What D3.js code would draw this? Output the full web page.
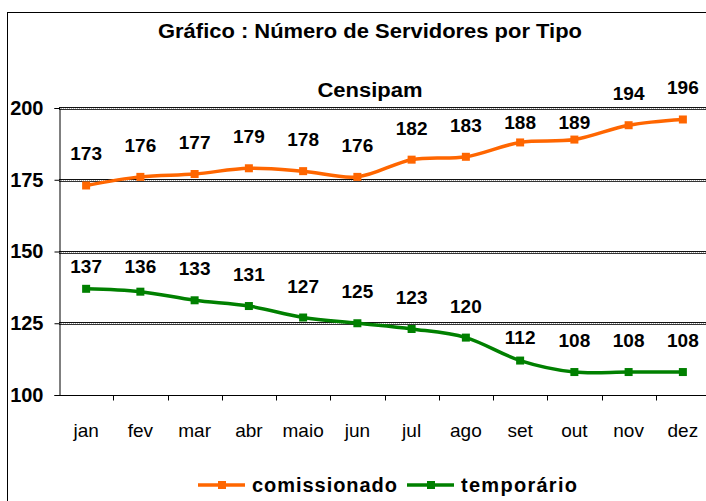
<!doctype html>
<html lang="pt">
<head>
<meta charset="utf-8">
<title>Número de Servidores por Tipo</title>
<script src="https://cdn.jsdelivr.net/npm/d3@7"></script>
<style>
	body { margin: 0; background: #fff; }
	text { font-family: "Liberation Sans", Arial, sans-serif; fill: #000; }
	.title { font-size: 20px; font-weight: bold; }
	.lbl { font-size: 19px; font-weight: bold; }
	.month { font-size: 19px; }
	.legend { font-size: 20px; font-weight: bold; }
</style>
</head>
<body>
<div id="viz"></div>
<script>
// DATA
var months = ["jan","fev","mar","abr","maio","jun","jul","ago","set","out","nov","dez"];
var comissionado = [173,176,177,179,178,176,182,183,188,189,194,196];
var temporario = [137,136,133,131,127,125,123,120,112,108,108,108];
var yTicks = [100,125,150,175,200];
var seriesNames = ["comissionado","temporário"];
var seriesColors = ["#ff6600","#008000"];

var w = 706, h = 501;
var plot = {left: 59, right: 710, top: 108, bottom: 395};

var svg = d3.select("#viz").append("svg")
	.attr("width", w)
	.attr("height", h);

// outer frame
svg.append("rect")
	.attr("x", 7.5).attr("y", 12.5)
	.attr("width", 720).attr("height", 520)
	.style("fill", "none").style("stroke", "#000").style("stroke-width", 1);

svg.append("text").attr("class", "title")
	.attr("x", 370).attr("y", 38)
	.attr("text-anchor", "middle")
	.attr("textLength", 424).attr("lengthAdjust", "spacingAndGlyphs")
	.text("Gráfico : Número de Servidores por Tipo");

svg.append("text").attr("class", "title")
	.attr("x", 370).attr("y", 97)
	.attr("text-anchor", "middle")
	.attr("textLength", 105).attr("lengthAdjust", "spacingAndGlyphs")
	.text("Censipam");

// SCALES
var xScale = d3.scalePoint()
	.domain(months)
	.range([plot.left, plot.right])
	.padding(0.5);
var step = xScale.step();

var yScale = d3.scaleLinear()
	.domain([100, 200])
	.range([plot.bottom, plot.top]);

// gridlines (double style)
var grid = svg.append("g");
yTicks.filter(function(d){ return d > 100; }).forEach(function(t) {
	var y = Math.round(yScale(t));
	grid.append("line")
		.attr("x1", plot.left).attr("x2", w)
		.attr("y1", y + 0.5).attr("y2", y + 0.5)
		.style("stroke", "#aaa").style("stroke-width", 1)
		.style("stroke-dasharray", "1,1");
	grid.append("line")
		.attr("x1", plot.left).attr("x2", w)
		.attr("y1", y - 0.5).attr("y2", y - 0.5)
		.style("stroke", "#111").style("stroke-width", 1);
	grid.append("line")
		.attr("x1", plot.left).attr("x2", w)
		.attr("y1", y + 1.5).attr("y2", y + 1.5)
		.style("stroke", "#333").style("stroke-width", 1);
});

// AXES
var yAxis = d3.axisLeft(yScale).tickValues(yTicks).tickSize(5).tickPadding(11);
var yG = svg.append("g")
	.attr("transform", "translate(" + (plot.left + 0.5) + ",0)")
	.call(yAxis);
yG.selectAll("text")
	.style("font-family", "'Liberation Sans', Arial, sans-serif")
	.style("font-size", "20px").style("font-weight", "bold").style("fill", "#000");
yG.select(".domain").style("stroke", "#000");

var xG = svg.append("g").attr("transform", "translate(0," + (plot.bottom + 0.5) + ")");
xG.append("line")
	.attr("x1", plot.left).attr("x2", w)
	.style("stroke", "#000");
xG.selectAll("line.tk")
	.data(months)
	.enter().append("line")
	.attr("class", "tk")
	.attr("x1", function(d){ return Math.round(xScale(d) + step / 2) + 0.5; })
	.attr("x2", function(d){ return Math.round(xScale(d) + step / 2) + 0.5; })
	.attr("y1", 0).attr("y2", 5)
	.style("stroke", "#000");
xG.selectAll("text.month")
	.data(months)
	.enter().append("text")
	.attr("class", "month")
	.attr("x", function(d){ return xScale(d); })
	.attr("y", 41)
	.attr("text-anchor", "middle")
	.text(function(d){ return d; });

// LINES
var line = d3.line()
	.x(function(d, i){ return xScale(months[i]); })
	.y(function(d){ return yScale(d); })
	.curve(d3.curveCatmullRom.alpha(0));

var gridYs = yTicks.map(function(t){ return yScale(t); });
function labelY(v) {
	var c = yScale(v) - 32;
	gridYs.forEach(function(g) {
		if (Math.abs(c - g) < 12) c = g + 14;
	});
	return c + 7;
}

[comissionado, temporario].forEach(function(series, s) {
	var g = svg.append("g");
	g.append("path")
		.datum(series)
		.attr("d", line)
		.style("fill", "none")
		.style("stroke", seriesColors[s])
		.style("stroke-width", 3.5);
	g.selectAll("rect")
		.data(series)
		.enter().append("rect")
		.attr("x", function(d, i){ return xScale(months[i]) - 4; })
		.attr("y", function(d){ return yScale(d) - 4; })
		.attr("width", 8).attr("height", 8)
		.style("fill", seriesColors[s]);
	g.selectAll("text")
		.data(series)
		.enter().append("text")
		.attr("class", "lbl")
		.attr("x", function(d, i){ return xScale(months[i]); })
		.attr("y", function(d){ return labelY(d); })
		.attr("text-anchor", "middle")
		.text(function(d){ return d; });
});

// LEGEND
var legend = svg.append("g").attr("transform", "translate(0,485)");
var legendX = [198, 407];
var legendW = [145, 116];
seriesNames.forEach(function(name, s) {
	var x0 = legendX[s];
	legend.append("line")
		.attr("x1", x0).attr("x2", x0 + 47)
		.style("stroke", seriesColors[s]).style("stroke-width", 3.5);
	legend.append("rect")
		.attr("x", x0 + 20).attr("y", -4)
		.attr("width", 8).attr("height", 8)
		.style("fill", seriesColors[s]);
	legend.append("text")
		.attr("class", "legend")
		.attr("x", x0 + 54).attr("y", 7)
		.attr("textLength", legendW[s]).attr("lengthAdjust", "spacing")
		.text(name);
});
</script>
</body>
</html>
